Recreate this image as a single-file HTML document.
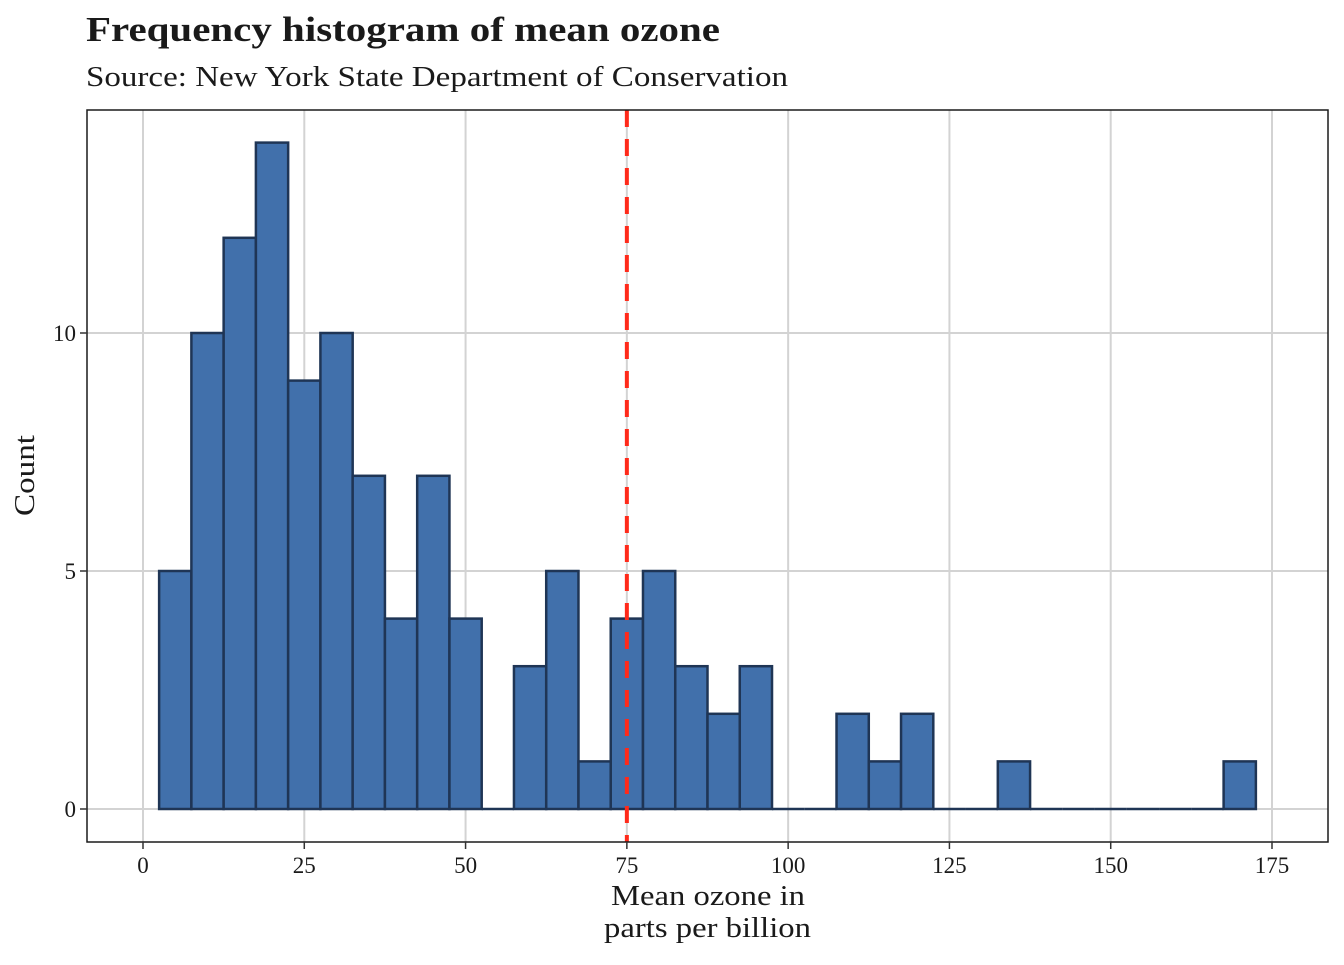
<!DOCTYPE html>
<html><head><meta charset="utf-8"><style>
body{margin:0;background:#fff}
svg text{font-family:"Liberation Serif",serif;fill:#1a1a1a}
</style></head><body>
<svg id="c" width="1344" height="960" xmlns="http://www.w3.org/2000/svg">
<text x="86" y="41" font-size="35" font-weight="bold" textLength="634" lengthAdjust="spacingAndGlyphs">Frequency histogram of mean ozone</text>
<text x="86" y="86" font-size="28" textLength="702" lengthAdjust="spacingAndGlyphs">Source: New York State Department of Conservation</text>
<g id="plot"></g>
<text x="611" y="905" font-size="28" textLength="194" lengthAdjust="spacingAndGlyphs">Mean ozone in</text>
<text x="604" y="937" font-size="28" textLength="207" lengthAdjust="spacingAndGlyphs">parts per billion</text>
<text transform="translate(34,516) rotate(-90)" font-size="28" textLength="81" lengthAdjust="spacingAndGlyphs">Count</text>
</svg>
<script>
const binCenters=[5,10,15,20,25,30,35,40,45,50,55,60,65,70,75,80,85,90,95,100,105,110,115,120,125,130,135,140,145,150,155,160,165,170];
const counts=[5,10,12,14,9,10,7,4,7,4,0,3,5,1,4,5,3,2,3,0,0,2,1,2,0,0,1,0,0,0,0,0,0,1];
const xTicks=[0,25,50,75,100,125,150,175];
const yTicks=[0,5,10];
const refLine=75;
const binWidth=5;
const NS="http://www.w3.org/2000/svg";
const g=document.getElementById('plot');
const X=v=>143+v*(1129/175), Y=v=>809-v*47.6;
const L=87,R=1328,T=110,B=842;
function el(t,a){const e=document.createElementNS(NS,t);for(const k in a)e.setAttribute(k,a[k]);g.appendChild(e);return e;}
xTicks.forEach(t=>{const e=el('line',{x1:X(t),x2:X(t),y1:T,y2:B,stroke:'#d3d3d3','stroke-width':2});

});
yTicks.forEach(t=>{const e=el('line',{x1:L,x2:R,y1:Y(t),y2:Y(t),stroke:'#d3d3d3','stroke-width':2});

});
binCenters.forEach((c,i)=>{const x0=X(c-binWidth/2),x1=X(c+binWidth/2);
let r;
if(counts[i]>0){r=el('rect',{x:x0,y:Y(counts[i]),width:x1-x0,height:Y(0)-Y(counts[i]),fill:'#4170ab',stroke:'#1f3555','stroke-width':2.5});}
else{r=el('line',{x1:x0,x2:x1,y1:Y(0),y2:Y(0),stroke:'#1f3555','stroke-width':2.5});}

});
const d=el('line',{x1:X(refLine),x2:X(refLine),y1:T,y2:B,stroke:'#ff2a1a','stroke-width':4,'stroke-dasharray':'17,12'});


const p=el('rect',{x:L,y:T,width:R-L,height:B-T,fill:'none',stroke:'#1a1a1a','stroke-width':1.5});


xTicks.forEach(t=>{const k=el('line',{x1:X(t),x2:X(t),y1:B,y2:B+7,stroke:'#333','stroke-width':1.5});


const tx=el('text',{x:X(t),y:B+31,'font-size':23,'text-anchor':'middle'});tx.textContent=t;

});
yTicks.forEach(t=>{const k=el('line',{x1:L-7,x2:L,y1:Y(t),y2:Y(t),stroke:'#333','stroke-width':1.5});


const tx=el('text',{x:L-11,y:Y(t)+8,'font-size':23,'text-anchor':'end'});tx.textContent=t;

});
</script>
</body></html>
